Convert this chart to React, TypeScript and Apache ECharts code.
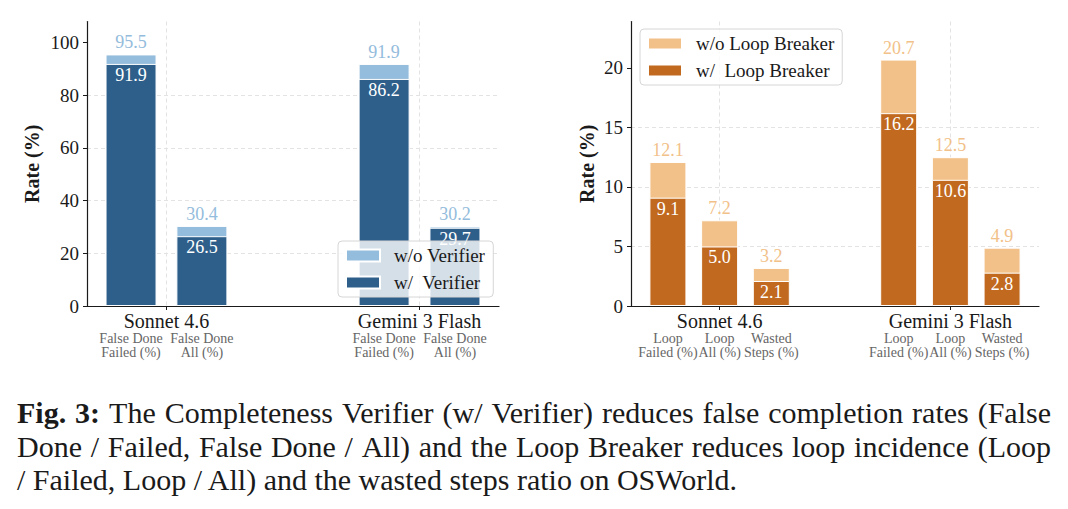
import React, { useEffect, useRef } from "react";
import * as echarts from "echarts";

// ---------- data ----------
const groups = ["Sonnet 4.6", "Gemini 3 Flash"];

const verifierMetrics = ["False Done\nFailed (%)", "False Done\nAll (%)"];
// group-major order: Sonnet metrics, then Gemini metrics
const verifierWithout = [95.5, 30.4, 91.9, 30.2];
const verifierWith = [91.9, 26.5, 86.2, 29.7];
const verifierTicks = [0, 20, 40, 60, 80, 100];

const loopMetrics = ["Loop\nFailed (%)", "Loop\nAll (%)", "Wasted\nSteps (%)"];
const loopWithout = [12.1, 7.2, 3.2, 20.7, 12.5, 4.9];
const loopWith = [9.1, 5.0, 2.1, 16.2, 10.6, 2.8];
const loopTicks = [0, 5, 10, 15, 20];

const legendLeft = ["w/o Verifier", "w/  Verifier"];
const legendRight = ["w/o Loop Breaker", "w/  Loop Breaker"];

const captionLine1 = ["Fig.", "3:", "The", "Completeness", "Verifier", "(w/", "Verifier)", "reduces", "false", "completion", "rates", "(False"];
const captionBold1 = [true, true];
const captionLine2 = ["Done", "/", "Failed,", "False", "Done", "/", "All)", "and", "the", "Loop", "Breaker", "reduces", "loop", "incidence", "(Loop"];
const captionLine3 = "/ Failed, Loop / All) and the wasted steps ratio on OSWorld.";

// ---------- style ----------
const FONT = "Liberation Serif, serif";
const INK = "#1a1a1a";
const GRIDC = "#e3e3e3";
const C_VER_WO = "#94bcdc";
const C_VER_W = "#2e5f8b";
const C_LOOP_WO = "#f2c189";
const C_LOOP_W = "#c1691f";

function positions(nMetrics: number, width: number) {
  const out: number[] = [];
  groups.forEach((_, g) => {
    for (let j = 0; j < nMetrics; j++) out.push(g + (j - (nMetrics - 1) / 2) * width * 1.4);
  });
  return out;
}

function measure(ctx: CanvasRenderingContext2D, text: string, size: number, bold: boolean) {
  ctx.font = `${bold ? "bold " : ""}${size}px ${FONT}`;
  return ctx.measureText(text).width;
}

function buildCaption(): any[] {
  const canvas = document.createElement("canvas");
  const ctx = canvas.getContext("2d")!;
  const base = 26;
  const nat3 = measure(ctx, captionLine3, base, false);
  let fs = base * (744 / nat3);
  fs = Math.max(22, Math.min(30, fs));
  const xL = 17;
  const xR = 1051;
  const els: any[] = [];
  const baselines = [423, 456.5, 489.5];
  const yOf = (b: number) => b - 0.34 * fs;
  const justify = (words: string[], bold: boolean[], baseline: number) => {
    const widths = words.map((w, i) => measure(ctx, w, fs, !!bold[i]));
    const total = widths.reduce((a, b) => a + b, 0);
    const gap = (xR - xL - total) / (words.length - 1);
    let x = xL;
    words.forEach((w, i) => {
      els.push({
        type: "text",
        x,
        y: yOf(baseline),
        style: {
          text: w,
          fontSize: fs,
          fontFamily: FONT,
          fontWeight: bold[i] ? "bold" : "normal",
          fill: INK,
          textAlign: "left",
          textVerticalAlign: "middle",
        },
      });
      x += widths[i] + gap;
    });
  };
  justify(captionLine1, captionBold1, baselines[0]);
  justify(captionLine2, [], baselines[1]);
  els.push({
    type: "text",
    x: xL,
    y: yOf(baselines[2]),
    style: {
      text: captionLine3,
      fontSize: fs,
      fontFamily: FONT,
      fill: INK,
      textAlign: "left",
      textVerticalAlign: "middle",
    },
  });
  return els;
}

function makePanel(idx: number, cfg: {
  metrics: string[];
  without: number[];
  withV: number[];
  ticks: number[];
  ymax: number;
  barW: number;
  barPx: number;
  xmin: number;
  xmax: number;
  cWo: string;
  cW: string;
  names: string[];
  nameGap: number;
}) {
  const pos = positions(cfg.metrics.length, cfg.barW);
  const metricOf = (v: number) => {
    let best = 0;
    pos.forEach((p, i) => {
      if (Math.abs(p - v) < Math.abs(pos[best] - v)) best = i;
    });
    return cfg.metrics[best % cfg.metrics.length];
  };
  const xAxes = [
    {
      type: "value",
      gridIndex: idx,
      position: "bottom",
      min: cfg.xmin,
      max: cfg.xmax,
      axisLine: { show: true, onZero: false, lineStyle: { color: INK, width: 1.2 } },
      axisTick: { show: true, length: 4, customValues: [0, 1], lineStyle: { color: INK } },
      axisLabel: {
        customValues: [0, 1],
        formatter: (v: number) => groups[Math.round(v)],
        fontSize: 20,
        fontFamily: FONT,
        color: INK,
        margin: 5,
      },
      splitLine: { show: true, lineStyle: { color: GRIDC, type: [4, 3], width: 1 } },
    },
    {
      type: "value",
      gridIndex: idx,
      position: "bottom",
      min: cfg.xmin,
      max: cfg.xmax,
      axisLine: { show: false, onZero: false },
      axisTick: { show: false, customValues: pos },
      splitLine: { show: false },
      axisLabel: {
        customValues: pos,
        formatter: (v: number) => metricOf(v),
        fontSize: 14,
        lineHeight: 14,
        fontFamily: FONT,
        color: "#666",
        margin: 25,
      },
    },
  ];
  const yAxis = {
    type: "value",
    gridIndex: idx,
    min: 0,
    max: cfg.ymax,
    interval: cfg.ticks[1] - cfg.ticks[0],
    axisLine: { show: true, onZero: false, lineStyle: { color: INK, width: 1.2 } },
    axisTick: { show: true, length: 4, customValues: cfg.ticks, lineStyle: { color: INK } },
    axisLabel: { customValues: cfg.ticks, fontSize: 19, fontFamily: FONT, color: INK, margin: 8 },
    splitLine: { show: true, showMinLine: false, showMaxLine: false, lineStyle: { color: GRIDC, type: [4, 3], width: 1 } },
    name: "Rate (%)",
    nameLocation: "middle",
    nameGap: cfg.nameGap,
    nameRotate: 90,
    nameTextStyle: { fontSize: 20, fontWeight: "bold", fontFamily: FONT, color: INK },
  };
  const fmt = (p: any) => Number(p.value[1]).toFixed(1);
  const series = [
    {
      type: "bar",
      name: cfg.names[0],
      xAxisIndex: idx * 2,
      yAxisIndex: idx,
      barWidth: cfg.barPx,
      barGap: "-100%",
      data: pos.map((p, i) => [p, cfg.without[i]]),
      itemStyle: { color: cfg.cWo, borderColor: "#ffffff", borderWidth: 1 },
      label: { show: true, position: "top", distance: 3, formatter: fmt, color: cfg.cWo, fontSize: 18, fontFamily: FONT },
    },
    {
      type: "bar",
      name: cfg.names[1],
      xAxisIndex: idx * 2,
      yAxisIndex: idx,
      barWidth: cfg.barPx,
      barGap: "-100%",
      data: pos.map((p, i) => [p, cfg.withV[i]]),
      itemStyle: { color: cfg.cW, borderColor: "#ffffff", borderWidth: 1 },
      label: { show: true, position: "insideTop", distance: 2, formatter: fmt, color: "#ffffff", fontSize: 18, fontFamily: FONT },
    },
  ];
  return { xAxes, yAxis, series };
}

export default function App() {
  const ref = useRef<HTMLDivElement>(null);
  useEffect(() => {
    if (!ref.current) return;
    const chart = echarts.init(ref.current, null, { renderer: "svg" });
    const left = makePanel(0, {
      metrics: verifierMetrics,
      without: verifierWithout,
      withV: verifierWith,
      ticks: verifierTicks,
      ymax: 108,
      barW: 0.2,
      barPx: 51,
      xmin: -0.314,
      xmax: 1.314,
      cWo: C_VER_WO,
      cW: C_VER_W,
      names: legendLeft,
      nameGap: 45,
    });
    const right = makePanel(1, {
      metrics: loopMetrics,
      without: loopWithout,
      withV: loopWith,
      ticks: loopTicks,
      ymax: 23.9,
      barW: 0.16,
      barPx: 37,
      xmin: -0.384,
      xmax: 1.384,
      cWo: C_LOOP_WO,
      cW: C_LOOP_W,
      names: legendRight,
      nameGap: 34,
    });
    const legendBase = {
      orient: "vertical",
      itemWidth: 34,
      itemHeight: 12,
      itemGap: 8,
      icon: "rect",
      selectedMode: false,
      padding: [5, 8, 5, 7],
      backgroundColor: "rgba(255,255,255,0.8)",
      borderColor: "#d6d6d6",
      borderWidth: 1,
      borderRadius: 4,
      textStyle: { fontSize: 19, fontFamily: FONT, color: INK, lineHeight: 18, padding: [0, 0, 0, 9] },
    };
    chart.setOption({
      animation: false,
      backgroundColor: "#ffffff",
      textStyle: { fontFamily: FONT },
      grid: [
        { left: 87, top: 21.5, width: 412, height: 284.5, containLabel: false },
        { left: 631, top: 21.5, width: 408, height: 284.5, containLabel: false },
      ],
      xAxis: [...left.xAxes, ...right.xAxes],
      yAxis: [left.yAxis, right.yAxis],
      legend: [
        { ...legendBase, data: legendLeft, left: 338, top: 241 },
        { ...legendBase, data: legendRight, left: 640, top: 29 },
      ],
      series: [...left.series, ...right.series],
      graphic: buildCaption(),
    });
    return () => chart.dispose();
  }, []);
  return (
    <div
      ref={ref}
      style={{ position: "absolute", left: 0, top: 0, width: 1068, height: 509, background: "#fff" }}
    />
  );
}
